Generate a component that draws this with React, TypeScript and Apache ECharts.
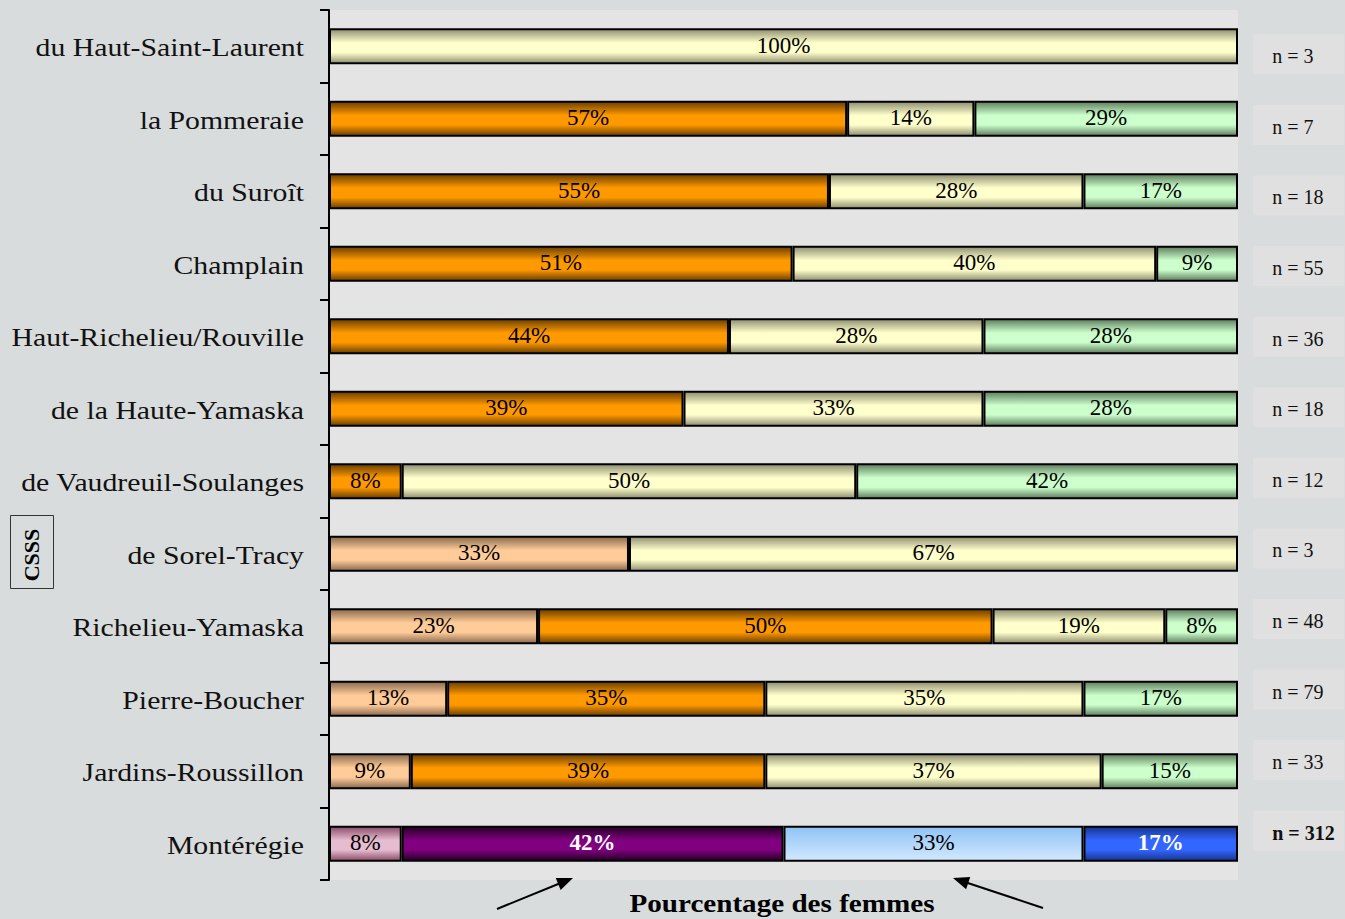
import React, { useEffect, useRef } from "react";
import * as echarts from "echarts";

// CSSS names, top to bottom
const categories = [
  "du Haut-Saint-Laurent",
  "la Pommeraie",
  "du Suroît",
  "Champlain",
  "Haut-Richelieu/Rouville",
  "de la Haute-Yamaska",
  "de Vaudreuil-Soulanges",
  "de Sorel-Tracy",
  "Richelieu-Yamaska",
  "Pierre-Boucher",
  "Jardins-Roussillon",
  "Montérégie",
];

// Stacked shares (%) for each segment, same order as categories
const segA = [null, null, null, null, null, null, null, 33, 23, 13, 9, 8];
const segB = [null, 57, 55, 51, 44, 39, 8, null, 50, 35, 39, 42];
const segC = [100, 14, 28, 40, 28, 33, 50, 67, 19, 35, 37, 33];
const segD = [null, 29, 17, 9, 28, 28, 42, null, 8, 17, 15, 17];

// Sample sizes shown on the right
const sampleSizes = [3, 7, 18, 55, 36, 18, 12, 3, 48, 79, 33, 312];

const SERIF = "'Liberation Serif', 'DejaVu Serif', serif";

function bandGradient(dark: string, base: string) {
  return new echarts.graphic.LinearGradient(0, 0, 0, 1, [
    { offset: 0, color: dark },
    { offset: 0.4, color: base },
    { offset: 0.68, color: base },
    { offset: 1, color: dark },
  ]);
}

const palette = {
  a: () => bandGradient("#8a6a4e", "#ffcc99"),
  b: () => bandGradient("#6a3e00", "#ff9900"),
  c: () => bandGradient("#8e8e70", "#ffffcc"),
  d: () => bandGradient("#5e7e5e", "#ccffcc"),
};

// Colours used for the regional total row
const totalPalette = {
  a: () => bandGradient("#8a4c66", "#e6bcd0"),
  b: () => bandGradient("#240024", "#800080"),
  c: () =>
    new echarts.graphic.LinearGradient(0, 0, 0, 1, [
      { offset: 0, color: "#8fc3f5" },
      { offset: 1, color: "#d2e9ff" },
    ]),
  d: () => bandGradient("#16348e", "#3366ff"),
};

function arrowHead(x1: number, y1: number, x2: number, y2: number) {
  const dx = x2 - x1;
  const dy = y2 - y1;
  const len = Math.sqrt(dx * dx + dy * dy);
  const ux = dx / len;
  const uy = dy / len;
  const hl = 16;
  const hw = 6.5;
  const bx = x2 - ux * hl;
  const by = y2 - uy * hl;
  return {
    line: [x1, y1, bx + ux * 2, by + uy * 2],
    head: [
      [x2, y2],
      [bx - uy * hw, by + ux * hw],
      [bx + uy * hw, by - ux * hw],
    ],
  };
}

export default function App() {
  const ref = useRef<HTMLDivElement>(null);

  useEffect(() => {
    if (!ref.current) return;
    const chart = echarts.init(ref.current, undefined, { renderer: "svg" });
    const last = categories.length - 1;

    const makeSeries = (key: "a" | "b" | "c" | "d", values: (number | null)[]) => ({
      type: "bar",
      stack: "total",
      barWidth: 36,
      xAxisIndex: 0,
      yAxisIndex: 0,
      data: values.map((v, i) => {
        if (v === null) return "-";
        const isTotal = i === last;
        const boldWhite = isTotal && (key === "b" || key === "d");
        return {
          value: v,
          itemStyle: {
            color: isTotal ? totalPalette[key]() : palette[key](),
            borderColor: "#000",
            borderWidth: 2,
          },
          label: boldWhite
            ? { color: "#fff", fontWeight: "bold" }
            : { color: "#000", fontWeight: "normal" },
        };
      }),
      label: {
        show: true,
        position: "inside",
        formatter: (p: any) => `${p.value}%`,
        fontFamily: SERIF,
        fontSize: 23,
        color: "#000",
        offset: [0, -1],
      },
    });

    chart.setOption({
      animation: false,
      backgroundColor: "#d9dcdc",
      grid: [
        {
          left: 329,
          right: 107,
          top: 10,
          bottom: 39,
          show: true,
          backgroundColor: "#e4e4e4",
          borderWidth: 0,
        },
        { left: 1240, width: 1, top: 19, bottom: 53 },
      ],
      xAxis: [
        { type: "value", min: 0, max: 100, show: false, gridIndex: 0 },
        { type: "value", min: 0, max: 1, show: false, gridIndex: 1 },
      ],
      yAxis: [
        {
          type: "category",
          gridIndex: 0,
          inverse: true,
          data: categories,
          axisLine: { show: true, lineStyle: { color: "#000", width: 2 } },
          axisTick: { show: true, length: 9, lineStyle: { color: "#000", width: 2 } },
          // names are drawn as stretched graphic texts below
          axisLabel: { show: false },
        },
        {
          type: "category",
          gridIndex: 1,
          inverse: true,
          position: "right",
          data: sampleSizes.map((n) => `n = ${n}`),
          axisLine: { show: false },
          axisTick: { show: false },
          axisLabel: {
            margin: 13,
            align: "left",
            fontFamily: SERIF,
            fontSize: 20,
            color: "#111",
            backgroundColor: "#e0e0e0",
            width: 72,
            padding: [12, 0, 8, 19],
            formatter: (v: string, i: number) => (i === last ? `{b|${v}}` : v),
            rich: {
              b: { fontFamily: SERIF, fontSize: 20, fontWeight: "bold", color: "#111" },
            },
          },
        },
      ],
      series: [
        makeSeries("a", segA),
        makeSeries("b", segB),
        makeSeries("c", segC),
        makeSeries("d", segD),
        {
          type: "bar",
          xAxisIndex: 1,
          yAxisIndex: 1,
          silent: true,
          data: sampleSizes.map(() => "-"),
        },
      ],
    });

    const left = arrowHead(497, 909, 573, 878);
    const right = arrowHead(1043, 908, 953, 878);

    const nameTexts = categories.map((name) => {
      const y = chart.convertToPixel({ yAxisIndex: 0 }, name) as number;
      return {
        type: "text",
        x: 304,
        y: y + 2,
        scaleX: 1.19,
        style: {
          text: name,
          fontFamily: SERIF,
          fontSize: 25,
          fill: "#111",
          textAlign: "right",
          textVerticalAlign: "middle",
        },
      };
    });

    chart.setOption({
      graphic: [
        ...nameTexts,
        {
          type: "text",
          x: 782,
          y: 903,
          scaleX: 1.12,
          style: {
            text: "Pourcentage des femmes",
            fontFamily: SERIF,
            fontSize: 26,
            fontWeight: "bold",
            fill: "#000",
            textAlign: "center",
            textVerticalAlign: "middle",
          },
        },
        { type: "line", shape: { x1: left.line[0], y1: left.line[1], x2: left.line[2], y2: left.line[3] }, style: { stroke: "#000", lineWidth: 2 } },
        { type: "polygon", shape: { points: left.head }, style: { fill: "#000" } },
        { type: "line", shape: { x1: right.line[0], y1: right.line[1], x2: right.line[2], y2: right.line[3] }, style: { stroke: "#000", lineWidth: 2 } },
        { type: "polygon", shape: { points: right.head }, style: { fill: "#000" } },
        {
          type: "rect",
          shape: { x: 10.5, y: 515.5, width: 43, height: 73 },
          style: { fill: "none", stroke: "#333", lineWidth: 1 },
        },
        {
          type: "text",
          x: 31,
          y: 555,
          rotation: Math.PI / 2,
          style: {
            text: "CSSS",
            fontFamily: SERIF,
            fontSize: 22,
            fontWeight: "bold",
            fill: "#000",
            textAlign: "center",
            textVerticalAlign: "middle",
          },
        },
      ],
    });

    return () => chart.dispose();
  }, []);

  return (
    <div
      ref={ref}
      style={{ position: "fixed", left: 0, top: 0, width: 1345, height: 919 }}
    />
  );
}
